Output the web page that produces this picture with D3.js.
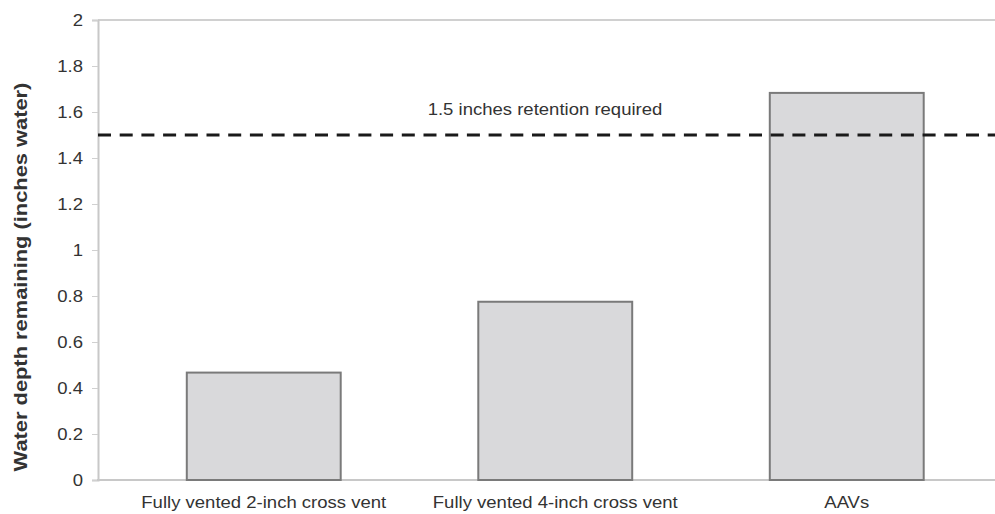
<!DOCTYPE html>
<html>
    <head>
        <meta charset="utf-8">
        <script src="https://d3js.org/d3.v7.min.js"></script>
        <style>
            body { margin: 0; background: #fff; }
            text { font-family: "Liberation Sans", Arial, sans-serif; fill: #333; }
        </style>
    </head>
    <body>

        <script>
            var categories = ['Fully vented 2-inch cross vent', 'Fully vented 4-inch cross vent', 'AAVs'];
            var values     = [0.467, 0.775, 1.683];
            var yTicks     = [0, 0.2, 0.4, 0.6, 0.8, 1, 1.2, 1.4, 1.6, 1.8, 2];
            var required   = 1.5;
            var requiredLabel = '1.5 inches retention required';
            var yTitle     = 'Water depth remaining (inches water)';

            var width  = 995,
                height = 514,
                stretch = 1.09;   // the original text is a little wider than Arial

            var svg = d3.select('body')
                        .append('svg')
                        .attr('width', width)
                        .attr('height', height);

            var x = d3.scaleBand()
                        .domain(categories)
                        .range([118, 992.5])
                        .paddingInner(0.472)
                        .paddingOuter(0.236);

            var y = d3.scaleLinear()
                        .domain([0, 2])
                        .range([480, 20]);

            // top frame line
            svg.append('line')
                .attr('x1', 98).attr('x2', width)
                .attr('y1', y(2)).attr('y2', y(2))
                .style('stroke', '#d0d0d0').style('stroke-width', 2);

            var yAxis = d3.axisLeft(y)
                        .tickValues(yTicks)
                        .tickSize(6)
                        .tickFormat(d3.format('~g'));

            var gy = svg.append('g')
                        .attr('transform', 'translate(98,0)')
                        .call(yAxis);
            gy.select('.domain').style('stroke', '#c8c8c8').style('stroke-width', 2);
            gy.selectAll('.tick line').style('stroke', '#d0d0d0');
            gy.selectAll('.tick text')
                .attr('x', 0)
                .attr('transform', 'translate(-15,0) scale(' + stretch + ',1)')
                .style('font-size', '17px')
                .style('fill', '#333');

            svg.append('line')
                .attr('x1', 97).attr('x2', width)
                .attr('y1', y(0)).attr('y2', y(0))
                .style('stroke', '#c8c8c8').style('stroke-width', 2);

            svg.selectAll('rect.bar')
                .data(values)
                .enter().append('rect')
                    .attr('class', 'bar')
                    .attr('x', function(d, i) { return x(categories[i]); })
                    .attr('y', function(d) { return y(d); })
                    .attr('width', x.bandwidth())
                    .attr('height', function(d) { return y(0) - y(d); })
                    .style('fill', '#d9d9db')
                    .style('stroke', '#7a7a7a')
                    .style('stroke-width', 2);

            svg.selectAll('text.cat')
                .data(categories)
                .enter().append('text')
                    .attr('class', 'cat')
                    .attr('transform', function(d) {
                        return 'translate(' + (x(d) + x.bandwidth() / 2) + ',508) scale(' + stretch + ',1)';
                    })
                    .attr('text-anchor', 'middle')
                    .style('font-size', '17px')
                    .text(function(d) { return d; });

            // required retention line
            svg.append('line')
                .attr('x1', 98).attr('x2', width)
                .attr('y1', y(required)).attr('y2', y(required))
                .style('stroke', '#1a1a1a')
                .style('stroke-width', 3)
                .style('stroke-dasharray', '13,8.7');

            svg.append('text')
                .attr('transform', 'translate(545,115) scale(' + stretch + ',1)')
                .attr('text-anchor', 'middle')
                .style('font-size', '17px')
                .text(requiredLabel);

            svg.append('text')
                .attr('transform', 'translate(27,277) rotate(-90) scale(1.15,1)')
                .attr('text-anchor', 'middle')
                .style('font-size', '19px')
                .style('font-weight', 'bold')
                .text(yTitle);

        </script>
    </body>
</html>
